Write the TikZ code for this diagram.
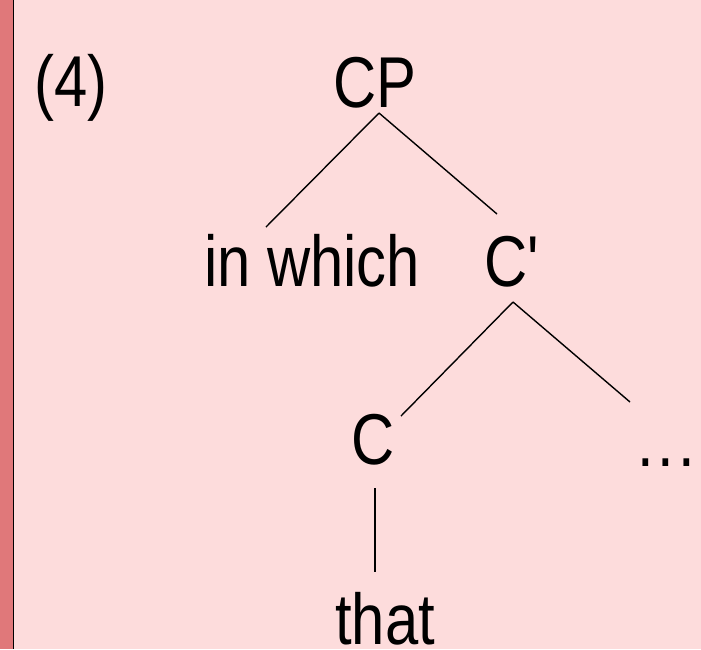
\documentclass[tikz,border=0pt]{standalone}
\usepackage{fontspec}
\usetikzlibrary{calc}
\setmainfont{Liberation Sans}[FakeStretch=0.83]
\definecolor{bgpink}{RGB}{253,220,220}
\definecolor{strip}{RGB}{224,120,122}
\begin{document}
\begin{tikzpicture}[x=1pt,y=-1pt,
  lbl/.style={anchor=base,inner sep=0pt,font=\fontsize{72}{80}\selectfont},
  edge/.style={line width=1.4pt,black}]
\useasboundingbox (0,0) rectangle (701,649);
\fill[bgpink] (0,0) rectangle (701,649);
\fill[strip] (0,0) rectangle (13,649);
\draw[line width=1.6pt] (13.5,0) -- (13.5,649);
\node[lbl] (num) at (71,106) {(4)};
\node[lbl] (cp) at (375,107) {CP};
\node[lbl] (inw) at (312,286) {in which};
\node[lbl] (cbar) at (513,286) {C\textquotesingle};
\node[lbl] (c) at (373,464) {C};
\node[lbl] (dots) at (666,466) {.\kern3.8pt.\kern3.8pt.};
\node[lbl] (that) at (385,644) {that};
\coordinate (cpT) at ($(cp.base)+(4,6)$);
\coordinate (inwE) at (266,227);
\coordinate (cbarE) at (497,214);
\coordinate (cbarT) at (513,302);
\coordinate (cE) at (401,416);
\coordinate (dotsE) at (630,402);
\coordinate (cB) at (375,488);
\coordinate (thatE) at (375,572);
\draw[edge] (cpT) -- (inwE);
\draw[edge] (cpT) -- (cbarE);
\draw[edge] (cbarT) -- (cE);
\draw[edge] (cbarT) -- (dotsE);
\draw[edge] (cB) -- (thatE);
\end{tikzpicture}
\end{document}
